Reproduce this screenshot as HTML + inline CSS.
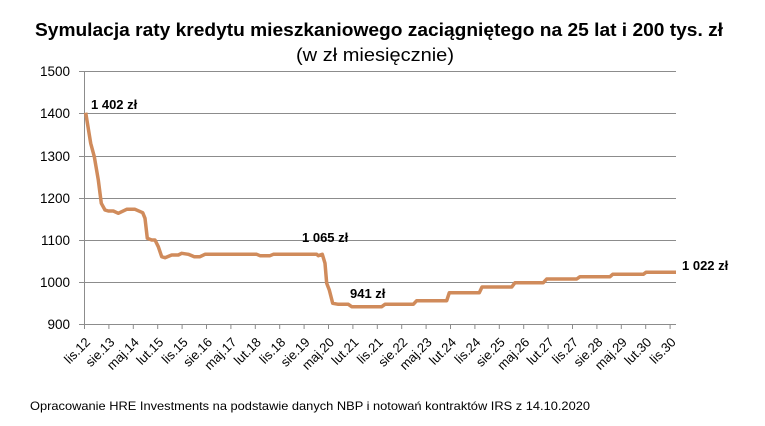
<!DOCTYPE html>
<html><head><meta charset="utf-8"><style>
body{margin:0;background:#fff;width:765px;height:421px;overflow:hidden;font-family:"Liberation Sans",sans-serif}
</style></head><body>
<svg width="765" height="421" xmlns="http://www.w3.org/2000/svg" font-family="Liberation Sans, sans-serif">
<text x="35" y="36" font-size="18" font-weight="bold" textLength="688" lengthAdjust="spacingAndGlyphs">Symulacja raty kredytu mieszkaniowego zaciągniętego na 25 lat i 200 tys. zł</text>
<text x="296" y="61" font-size="18" textLength="158" lengthAdjust="spacingAndGlyphs">(w zł miesięcznie)</text>
<g stroke="#8c8c8c" stroke-width="1">
<line x1="84" y1="71.5" x2="676" y2="71.5"/><line x1="84" y1="113.5" x2="676" y2="113.5"/>
<line x1="84" y1="156.5" x2="676" y2="156.5"/><line x1="84" y1="198.5" x2="676" y2="198.5"/>
<line x1="84" y1="240.5" x2="676" y2="240.5"/><line x1="84" y1="282.5" x2="676" y2="282.5"/>
<line x1="84" y1="324.5" x2="676" y2="324.5"/><line x1="84.5" y1="71" x2="84.5" y2="324"/>
<line x1="79" y1="71.5" x2="84" y2="71.5"/><line x1="79" y1="113.5" x2="84" y2="113.5"/><line x1="79" y1="156.5" x2="84" y2="156.5"/><line x1="79" y1="198.5" x2="84" y2="198.5"/><line x1="79" y1="240.5" x2="84" y2="240.5"/><line x1="79" y1="282.5" x2="84" y2="282.5"/><line x1="79" y1="324.5" x2="84" y2="324.5"/>
<path d="M84.5 324v5M108.9 324v5M133.3 324v5M157.7 324v5M182.1 324v5M206.5 324v5M230.9 324v5M255.3 324v5M279.7 324v5M304.1 324v5M328.5 324v5M352.9 324v5M377.3 324v5M401.7 324v5M426.1 324v5M450.5 324v5M474.9 324v5M499.3 324v5M523.7 324v5M548.1 324v5M572.5 324v5M596.9 324v5M621.3 324v5M645.7 324v5M670.1 324v5"/>
</g>
<g font-size="13.5" text-anchor="end" fill="#000">
<text x="70" y="76">1500</text><text x="70" y="118">1400</text><text x="70" y="161">1300</text><text x="70" y="203">1200</text><text x="70" y="245">1100</text><text x="70" y="287">1000</text><text x="70" y="329">900</text>
</g>
<g font-size="13" text-anchor="end">
<text transform="translate(91,343) rotate(-45)">lis.12</text>
<text transform="translate(115.4,343) rotate(-45)">sie.13</text>
<text transform="translate(139.8,343) rotate(-45)">maj.14</text>
<text transform="translate(164.2,343) rotate(-45)">lut.15</text>
<text transform="translate(188.6,343) rotate(-45)">lis.15</text>
<text transform="translate(213,343) rotate(-45)">sie.16</text>
<text transform="translate(237.4,343) rotate(-45)">maj.17</text>
<text transform="translate(261.8,343) rotate(-45)">lut.18</text>
<text transform="translate(286.2,343) rotate(-45)">lis.18</text>
<text transform="translate(310.6,343) rotate(-45)">sie.19</text>
<text transform="translate(335,343) rotate(-45)">maj.20</text>
<text transform="translate(359.4,343) rotate(-45)">lut.21</text>
<text transform="translate(383.8,343) rotate(-45)">lis.21</text>
<text transform="translate(408.2,343) rotate(-45)">sie.22</text>
<text transform="translate(432.6,343) rotate(-45)">maj.23</text>
<text transform="translate(457,343) rotate(-45)">lut.24</text>
<text transform="translate(481.4,343) rotate(-45)">lis.24</text>
<text transform="translate(505.8,343) rotate(-45)">sie.25</text>
<text transform="translate(530.2,343) rotate(-45)">maj.26</text>
<text transform="translate(554.6,343) rotate(-45)">lut.27</text>
<text transform="translate(579,343) rotate(-45)">lis.27</text>
<text transform="translate(603.4,343) rotate(-45)">sie.28</text>
<text transform="translate(627.8,343) rotate(-45)">maj.29</text>
<text transform="translate(652.2,343) rotate(-45)">lut.30</text>
<text transform="translate(676.6,343) rotate(-45)">lis.30</text>
</g>
<polyline fill="none" stroke="#d08b5b" stroke-width="3.5" stroke-linejoin="round" points="85.7,112.7 90.7,143.3 94.3,156.7 98.3,180 101.3,203.3 105,210 108.3,211 113.3,211 118.3,213.3 126.7,209.3 135,209.3 142.7,212.7 145,218.3 147.3,238.3 151.7,240 155,240 158.3,246.7 161.7,256.7 165,257.7 171.7,255 178.3,255 181.7,253.3 188.3,254.3 194.3,256.7 200,256.7 205,254.3 256.7,254.3 260,255.7 270,255.7 273.3,254.3 316.7,254.3 318.3,255.7 322.3,254.3 325,263.3 326.7,283.3 329.3,290 332.7,303.3 338.3,304.3 348.3,304.3 351.7,306.7 381.7,306.7 385,304.3 413.3,304.3 416.7,300.7 446.7,300.7 449.3,292.7 479.3,292.7 482,287 511.7,287 515,282.7 543.3,282.7 546.7,279 576.7,279 580,276.7 610,276.7 612.7,274.3 643.3,274.3 646,272.3 676,272.3"/>
<g font-size="13" font-weight="bold">
<text x="91" y="109">1 402 zł</text><text x="302" y="242">1 065 zł</text><text x="350" y="298">941 zł</text><text x="682" y="270">1 022 zł</text>
</g>
<text x="30" y="410" font-size="12" textLength="560" lengthAdjust="spacingAndGlyphs">Opracowanie HRE Investments na podstawie danych NBP i notowań kontraktów IRS z 14.10.2020</text>
</svg>
</body></html>
